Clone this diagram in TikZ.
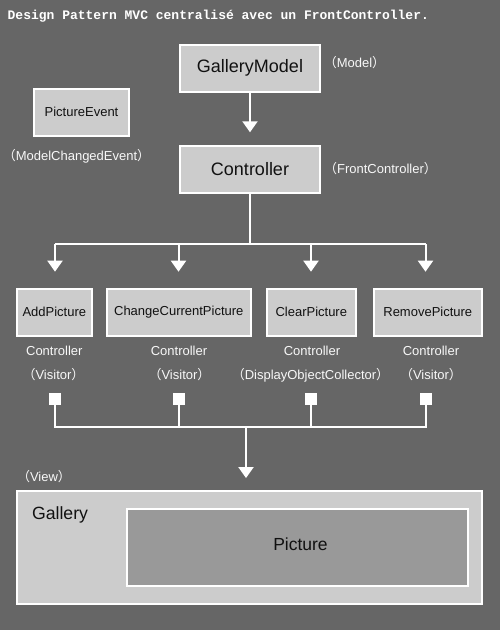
\documentclass[tikz,border=0pt]{standalone}
\usepackage{fontspec}
\setmainfont{Liberation Sans}
\newfontfamily\titlefont{Liberation Mono}
\newfontfamily\cjk{Noto Sans CJK JP}
\usetikzlibrary{arrows.meta,calc}
\definecolor{bgcol}{HTML}{666666}
\definecolor{boxfill}{HTML}{CCCCCC}
\definecolor{picfill}{HTML}{999999}
\definecolor{inkcol}{HTML}{111111}
\definecolor{labcol}{HTML}{F8F8F8}
\newcommand\lpar{{\cjk （}}
\newcommand\rpar{{\cjk ）}}
\begin{document}
\begin{tikzpicture}[x=1pt,y=-1pt,
  box/.style={draw=white, line width=2pt, fill=boxfill, text=inkcol, inner sep=0pt,
    minimum height=47pt, font=\fontsize{13}{15}\selectfont},
  bigbox/.style={box, font=\fontsize{18}{21}\selectfont},
  lab/.style={text=labcol, inner sep=0pt, font=\fontsize{13}{15}\selectfont},
  conn/.style={draw=white, line width=2pt},
  arr/.style={conn, -{Triangle[width=15pt,length=11pt]}},
  sq/.style={fill=white, minimum size=12pt, inner sep=0pt},
]
\fill[bgcol] (0,0) rectangle (500,630);
\useasboundingbox (0,0) rectangle (500,630);

% title
\node[anchor=base west, inner sep=0pt, text=white, font=\titlefont\bfseries\fontsize{13}{15}\selectfont]
  (title) at (7.5,19.5) {Design Pattern MVC centralisé avec un FrontController.};

% top nodes
\node[bigbox, minimum width=140pt] (model) at (250,68) {GalleryModel};
\node[lab] (modellab) at (354.5,63) {\lpar Model\rpar};
\node[box, minimum width=94.4pt] (evt) at (81.5,112.2) {PictureEvent};
\node[lab] (evtlab) at (76.5,156) {\lpar ModelChangedEvent\rpar};
\node[bigbox, minimum width=140pt] (ctrl) at (250,169) {Controller};
\node[lab] (ctrllab) at (380.5,169) {\lpar FrontController\rpar};

% controllers row
\node[box, minimum width=74.7pt] (add) at (54.3,312.2) {AddPicture};
\node[box, minimum width=143.7pt] (change) at (178.8,312.2) {ChangeCurrentPicture};
\node[box, minimum width=88.7pt] (clear) at (311.3,312.2) {ClearPicture};
\node[box, minimum width=107.7pt] (remove) at (427.8,312.2) {RemovePicture};

\node[lab] (c1) at (54.3,350.7) {Controller};
\node[lab] (c2) at (179,350.7) {Controller};
\node[lab] (c3) at (312,350.7) {Controller};
\node[lab] (c4) at (431,350.7) {Controller};
\node[lab] (v1) at (53.5,375) {\lpar Visitor\rpar};
\node[lab] (v2) at (179.5,375) {\lpar Visitor\rpar};
\node[lab] (v3) at (310.5,375) {\lpar DisplayObjectCollector\rpar};
\node[lab] (v4) at (431,375) {\lpar Visitor\rpar};

\node[sq] (s1) at (55,398.5) {};
\node[sq] (s2) at (178.5,398.5) {};
\node[sq] (s3) at (311,398.5) {};
\node[sq] (s4) at (425.5,398.5) {};

\coordinate (hub1) at (250,244.3);
\coordinate (hub2) at (246,426.7);

% view
\node[lab, anchor=center] (viewlab) at (44,477) {\lpar View\rpar};
\node[draw=white, line width=2pt, fill=boxfill, minimum width=464.7pt, minimum height=112.7pt, inner sep=0pt]
  (gal) at (249.3,547.6) {};
\node[anchor=west, inner sep=0pt, text=inkcol, font=\fontsize{17.7}{20}\selectfont] (galtxt) at (31.8,515) {Gallery};
\node[draw=white, line width=2pt, fill=picfill, minimum width=341pt, minimum height=77pt, inner sep=0pt]
  (pic) at (297.5,547.8) {};
\node[inner sep=0pt, text=inkcol, font=\fontsize{17.5}{20}\selectfont] (pictxt) at (300.5,544) {Picture};

% connectors
\draw[arr, shorten >=12.2pt] (model.south) -- (ctrl.north);
\draw[conn] (ctrl.south) -- (hub1);
\draw[conn] (hub1 -| s1) -- (hub1 -| s4);
\draw[arr, shorten >=16pt] (hub1 -| s1) -- (s1 |- add.north);
\draw[arr, shorten >=16pt] (hub1 -| s2) -- (s2 |- change.north);
\draw[arr, shorten >=16pt] (hub1 -| s3) -- (s3 |- clear.north);
\draw[arr, shorten >=16pt] (hub1 -| s4) -- (s4 |- remove.north);

\draw[conn] (s1.south) -- (s1 |- hub2) -- (s4 |- hub2) -- (s4.south);
\draw[conn] (s2.south) -- (s2 |- hub2);
\draw[conn] (s3.south) -- (s3 |- hub2);
\draw[arr, shorten >=12.2pt] (hub2) -- (hub2 |- gal.north);
\end{tikzpicture}
\end{document}
